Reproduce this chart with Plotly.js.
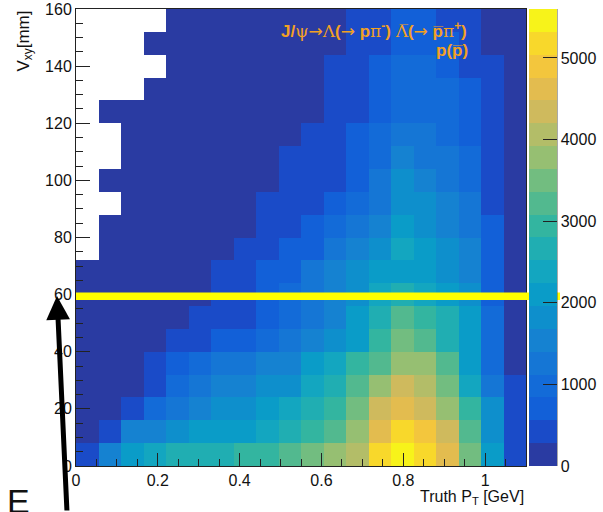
<!DOCTYPE html>
<html>
<head>
<meta charset="utf-8">
<script src="https://cdn.plot.ly/plotly-3.0.1.min.js"></script>
<style>html,body{margin:0;padding:0;background:#fff;}#plot{width:603px;height:512px;}</style>
</head>
<body>
<div id="plot"></div>
<script>
// Bin edges (Truth P_T in GeV, V_xy in mm)
const xEdges = [0,0.055,0.11,0.165,0.22,0.275,0.33,0.385,0.44,0.495,0.55,0.605,0.66,0.715,0.77,0.825,0.88,0.935,0.99,1.045,1.1];
const yEdges = [0,8,16,24,32,40,48,56,64,72,80,88,96,104,112,120,128,136,144,152,160];

// Counts per bin, one row per V_xy bin (bottom row first); null = empty bin
const row00 = [420,1540,2100,2380,2660,2660,2660,2940,2940,3220,3500,3780,4060,5180,5460,5180,4620,3500,2100,420];
const row01 = [140,420,1540,1540,1820,2100,2100,2100,2380,2660,2940,3220,3780,4620,5180,4900,4340,3220,1820,420];
const row02 = [140,140,420,980,1260,1540,1820,1820,2100,2380,2660,2940,3500,4340,4620,4340,3780,2940,1820,420];
const row03 = [140,140,140,420,980,1260,1540,1540,1820,1820,2380,2660,3220,3780,4340,4060,3500,2380,1260,420];
const row04 = [140,140,140,420,700,980,1260,1260,1540,1540,2100,2380,2940,3220,3780,3780,3220,2100,980,140];
const row05 = [140,140,140,140,420,420,700,700,980,1260,1540,1820,2100,2940,3500,3220,2660,2100,980,140];
const row06 = [140,140,140,140,140,420,420,420,700,980,1260,1540,2100,2660,3220,2940,2660,2100,980,140];
const row07 = [140,140,140,140,140,140,420,420,700,980,1260,1540,1820,2380,2660,2380,2100,1820,700,140];
const row08 = [140,140,140,140,140,140,420,420,700,700,1260,1540,1820,2100,2100,2100,1820,1540,700,140];
const row09 = [null,140,140,140,140,140,140,420,420,700,700,1260,1540,1820,2380,2100,1820,1540,700,140];
const row10 = [null,140,140,140,140,140,140,140,420,420,700,980,1260,1540,2100,1820,1540,1260,700,140];
const row11 = [null,null,140,140,140,140,140,140,420,420,420,700,980,1260,1820,1820,1540,1260,420,140];
const row12 = [null,140,140,140,140,140,140,140,140,420,420,420,700,1260,1820,1540,1260,980,420,140];
const row13 = [null,null,140,140,140,140,140,140,140,420,420,420,700,980,1540,1260,1260,980,420,140];
const row14 = [null,null,140,140,140,140,140,140,140,140,420,420,700,980,1260,1260,980,700,420,140];
const row15 = [null,140,140,140,140,140,140,140,140,140,140,420,420,700,980,980,980,700,420,140];
const row16 = [null,null,null,140,140,140,140,140,140,140,140,420,420,700,980,980,980,700,420,140];
const row17 = [null,null,null,null,140,140,140,140,140,140,140,420,420,700,980,980,700,420,420,140];
const row18 = [null,null,null,140,140,140,140,140,140,140,140,140,420,420,700,700,700,420,140,140];
const row19 = [null,null,null,null,140,140,140,140,140,140,140,140,420,420,700,700,420,420,140,140];

const xTickVals = [0,0.2,0.4,0.6,0.8,1];
const xTickText = ["0","0.2","0.4","0.6","0.8","1"];
const cbTickVals = [0,1000,2000,3000,4000,5000];

// palette (20 contour levels)
const palette = ['#2a3ba2','#1a4bc8','#1260d8','#136bd8','#1576d5','#1582d1','#0e8fcc','#0a9cc8','#13a6c0','#20aeb2',
                 '#33b5a0','#52b98f','#72bd80','#96bf72','#b3bd68','#cfba5d','#e3bc4f','#f3c63d','#f8d82b','#f7f31a'];
const zMax = 5600;
const colorscale = [];
palette.forEach((c, i) => { colorscale.push([i / palette.length, c]); colorscale.push([(i + 1) / palette.length, c]); });

const z = [row00,row01,row02,row03,row04,row05,row06,row07,row08,row09,row10,row11,row12,row13,row14,row15,row16,row17,row18,row19];

const W = 603, H = 512, L = 76, R = 77, T = 9, B = 46;
const pw = W - L - R, ph = H - T - B;
const px = v => (v - L) / pw;          // pixel -> paper x
const py = v => (H - B - v) / ph;      // pixel -> paper y

const font = 'Liberation Sans, Arial, sans-serif';
const orange = '#f2a124';
const G = s => '<span style="font-family:DejaVu Serif;font-weight:normal">' + s + '</span>';
const A = '<span style="font-family:DejaVu Sans;font-weight:normal">\u2192</span>';

const trace = {
  type: 'heatmap', x: xEdges, y: yEdges, z: z,
  zmin: 0, zmax: zMax, zsmooth: false, colorscale: colorscale,
  hoverinfo: 'skip',
  colorbar: {
    x: px(529), xanchor: 'left', y: 0, yanchor: 'bottom', len: 1, lenmode: 'fraction',
    thickness: 28, thicknessmode: 'pixels', xpad: 0, ypad: 0, outlinewidth: 0,
    tickmode: 'array', tickvals: cbTickVals, ticks: 'inside', ticklen: 14, tickwidth: 1, tickcolor: '#222',
    tickfont: {family: font, size: 16, color: '#111'}
  }
};

const axisCommon = {
  ticks: 'inside', tickwidth: 1, tickcolor: '#222', showline: true, linecolor: '#222', linewidth: 1,
  mirror: true, showgrid: false, zeroline: false, tickfont: {family: font, size: 16, color: '#111'}
};

const layout = {
  width: W, height: H,
  margin: {l: L, r: R, t: T, b: B, autoexpand: false},
  paper_bgcolor: '#fff', plot_bgcolor: '#fff',
  showlegend: false,
  xaxis: Object.assign({}, axisCommon, {
    range: [0, 1.1], tickmode: 'array', tickvals: xTickVals, ticktext: xTickText, ticklen: 13,
    minor: {dtick: 0.05, tick0: 0, ticks: 'inside', ticklen: 7, tickcolor: '#222', showgrid: false}
  }),
  yaxis: Object.assign({}, axisCommon, {
    range: [0, 160], dtick: 20, tick0: 0, ticklen: 14,
    minor: {dtick: 5, tick0: 0, ticks: 'inside', ticklen: 7, tickcolor: '#222', showgrid: false}
  }),
  shapes: [
    {type: 'line', xref: 'paper', yref: 'y', x0: 0, x1: px(560), y0: 59.4, y1: 59.4,
     line: {color: '#ffff00', width: 7.5}, layer: 'above'},
    {type: 'line', xref: 'paper', yref: 'paper', x0: px(557), x1: px(557), y0: 0, y1: 1,
     line: {color: '#555', width: 1}, layer: 'above'}
  ],
  annotations: [
    {text: 'V<sub>xy</sub>[mm]', xref: 'paper', yref: 'paper', x: px(24), y: py(9), xanchor: 'center', yanchor: 'top',
     textangle: -90, showarrow: false, font: {family: font, size: 17, color: '#111'}},
    {text: 'Truth P<sub>T</sub> [GeV]', xref: 'paper', yref: 'paper', x: 1, y: py(497), xanchor: 'right', yanchor: 'middle',
     showarrow: false, font: {family: font, size: 16, color: '#111'}},
    {text: '<b>J/' + G('\u03C8') + A + G('\u039B') + '(' + A + ' p' + G('\u03C0') + '<sup>-</sup>) ' + G('\u039B\u0305') + '(' + A + ' p\u0305' + G('\u03C0') + '<sup>+</sup>)</b>',
     xref: 'paper', yref: 'paper', x: px(374), y: py(30), xanchor: 'center', yanchor: 'middle',
     showarrow: false, font: {family: font, size: 17, color: orange}},
    {text: '<b>p(p\u0305)</b>', xref: 'paper', yref: 'paper', x: px(452), y: py(51), xanchor: 'center', yanchor: 'middle',
     showarrow: false, font: {family: font, size: 17, color: orange}},
    {text: '', xref: 'paper', yref: 'paper', x: px(57), y: py(296), ax: 10, ay: 216, axref: 'pixel', ayref: 'pixel',
     showarrow: true, arrowhead: 2, arrowsize: 0.95, arrowwidth: 5, arrowcolor: '#000', standoff: 0},
    {text: 'E', xref: 'paper', yref: 'paper', x: px(5), y: py(480), xanchor: 'left', yanchor: 'top',
     showarrow: false, font: {family: font, size: 34, color: '#111'}}
  ]
};

Plotly.newPlot('plot', [trace], layout, {displayModeBar: false, staticPlot: true});
</script>
</body>
</html>
